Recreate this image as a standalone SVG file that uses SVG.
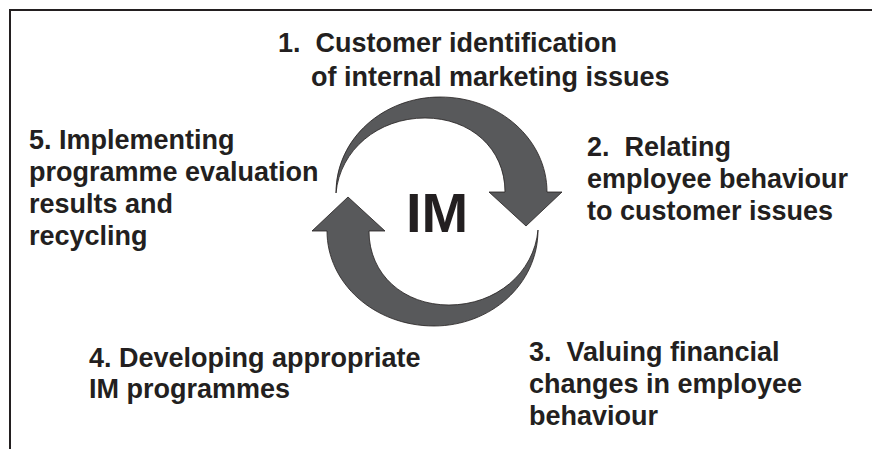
<svg xmlns="http://www.w3.org/2000/svg" width="872" height="449" viewBox="0 0 872 449" xml:space="preserve">
  <style>
    .lbl { font-family: "Liberation Sans", Arial, sans-serif; font-weight: bold; font-size: 27px; fill: #231f20; white-space: pre; }
    .im { font-family: "Liberation Sans", Arial, sans-serif; font-weight: bold; font-size: 56px; fill: #231f20; text-anchor: middle; }
    .arrow { fill: #58595b; stroke: #231f20; stroke-width: 0.8; stroke-linejoin: miter; }
    .frame { fill: none; stroke: #231f20; stroke-width: 2; }
  </style>
  <defs>
    <path id="cycle-arrow" d="M 336 193 C 336 138 384 97 440 97 C 500 97 547 140 547 192 L 562 192 L 526 226 L 489 192 L 505 192 C 505 148 470 118 425 118 C 378 118 340 150 336 193 Z"/>
  </defs>
  <rect width="872" height="449" fill="#ffffff"/>
  <path class="frame" d="M 10 449 L 10 10 L 872 10"/>
  <g id="connectors">
    <use href="#cycle-arrow" class="arrow"/>
    <use href="#cycle-arrow" class="arrow" transform="rotate(180 437 211.5)"/>
  </g>
  <g id="center">
    <text class="im" x="437" y="232">IM</text>
  </g>
  <g id="step1">
    <text class="lbl" x="278" y="52">1.  Customer identification</text>
    <text class="lbl" x="311" y="86">of internal marketing issues</text>
  </g>
  <g id="step2">
    <text class="lbl" x="587" y="156">2.  Relating</text>
    <text class="lbl" x="587" y="188">employee behaviour</text>
    <text class="lbl" x="587" y="220">to customer issues</text>
  </g>
  <g id="step3">
    <text class="lbl" x="529" y="361">3.  Valuing financial</text>
    <text class="lbl" x="529" y="393">changes in employee</text>
    <text class="lbl" x="529" y="425">behaviour</text>
  </g>
  <g id="step4">
    <text class="lbl" x="89" y="367">4. Developing appropriate</text>
    <text class="lbl" x="89" y="398">IM programmes</text>
  </g>
  <g id="step5">
    <text class="lbl" x="29" y="149">5. Implementing</text>
    <text class="lbl" x="29" y="181">programme evaluation</text>
    <text class="lbl" x="29" y="213">results and</text>
    <text class="lbl" x="29" y="245">recycling</text>
  </g>
</svg>
